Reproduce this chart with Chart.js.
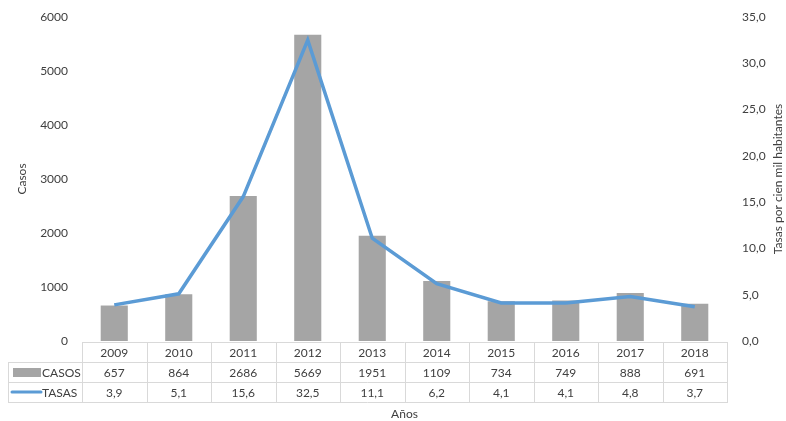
<!DOCTYPE html>
<html>
<head>
<meta charset="utf-8">
<script src="https://cdn.jsdelivr.net/npm/chart.js@4.4.1/dist/chart.umd.min.js"></script>
<style>
html,body{margin:0;padding:0;background:#fff;}
canvas{display:block;}
</style>
</head>
<body>
<canvas id="c" width="786" height="421"></canvas>
<script>
const categories = ['2009','2010','2011','2012','2013','2014','2015','2016','2017','2018'];
const casos = [657, 864, 2686, 5669, 1951, 1109, 734, 749, 888, 691];
const tasas = [3.9, 5.1, 15.6, 32.5, 11.1, 6.2, 4.1, 4.1, 4.8, 3.7];
const casosLabel = 'CASOS';
const tasasLabel = 'TASAS';
const leftTitle = 'Casos';
const rightTitle = 'Tasas por cien mil habitantes';
const xTitle = 'Años';

const FONT = 'Lato, "Liberation Sans", sans-serif';
const TEXT = '#404040';
const BAR = '#a5a5a5';
const LINE = '#5b9bd5';
const GRID = '#d9d9d9';

const fmt = v => v.toFixed(1).replace('.', ',');

const tablePlugin = {
  id: 'dataTable',
  afterDraw(chart) {
    const ctx = chart.ctx;
    const ca = chart.chartArea;
    const xs = chart.scales.x;
    const n = categories.length;
    const w = (ca.right - ca.left) / n;
    const top = Math.round(ca.bottom) + 1;
    const rh = 20;
    const tl = 8;
    ctx.save();
    ctx.strokeStyle = GRID;
    ctx.lineWidth = 1;
    ctx.beginPath();
    ctx.moveTo(ca.left, top + 0.5); ctx.lineTo(ca.right, top + 0.5);
    for (let r = 1; r <= 3; r++) {
      ctx.moveTo(tl, top + r * rh + 0.5); ctx.lineTo(ca.right, top + r * rh + 0.5);
    }
    for (let i = 0; i <= n; i++) {
      const xx = Math.round(ca.left + i * w) + 0.5;
      ctx.moveTo(xx, top); ctx.lineTo(xx, top + 3 * rh + 1);
    }
    ctx.moveTo(tl + 0.5, top + rh); ctx.lineTo(tl + 0.5, top + 3 * rh + 1);
    ctx.stroke();

    ctx.fillStyle = TEXT;
    ctx.font = '12px ' + FONT;
    ctx.textAlign = 'center';
    ctx.textBaseline = 'middle';
    for (let i = 0; i < n; i++) {
      const cx = xs.getPixelForValue(i);
      ctx.fillText(categories[i], cx, top + rh / 2 + 1);
      ctx.fillText(String(casos[i]), cx, top + rh * 1.5 + 1);
      ctx.fillText(fmt(tasas[i]), cx, top + rh * 2.5 + 1);
    }
    // legend keys
    ctx.fillStyle = BAR;
    ctx.fillRect(13, top + rh + 6, 28, 9);
    ctx.strokeStyle = LINE;
    ctx.lineWidth = 3;
    ctx.lineCap = 'round';
    ctx.beginPath();
    ctx.moveTo(12, top + rh * 2.5); ctx.lineTo(41, top + rh * 2.5);
    ctx.stroke();
    ctx.fillStyle = TEXT;
    ctx.textAlign = 'left';
    ctx.fillText(casosLabel, 42, top + rh * 1.5 + 1);
    ctx.fillText(tasasLabel, 42, top + rh * 2.5 + 1);

    // x title
    ctx.textAlign = 'center';
    ctx.fillText(xTitle, (ca.left + ca.right) / 2, 414);

    // right title (bottom-to-top)
    ctx.save();
    ctx.translate(778, (ca.top + ca.bottom) / 2);
    ctx.rotate(-Math.PI / 2);
    ctx.fillText(rightTitle, 0, 0);
    ctx.restore();
    ctx.restore();
  }
};

new Chart(document.getElementById('c'), {
  type: 'bar',
  data: {
    labels: categories,
    datasets: [
      {
        type: 'line',
        label: tasasLabel,
        data: tasas,
        yAxisID: 'y1',
        borderColor: LINE,
        backgroundColor: LINE,
        borderWidth: 3.5,
        pointRadius: 0,
        tension: 0,
        order: 0
      },
      {
        type: 'bar',
        label: casosLabel,
        data: casos,
        yAxisID: 'y',
        backgroundColor: BAR,
        borderWidth: 0,
        categoryPercentage: 1,
        barPercentage: 0.42,
        order: 1
      }
    ]
  },
  options: {
    responsive: false,
    animation: false,
    layout: { padding: { top: 17, bottom: 80, left: 0, right: 0 } },
    plugins: { legend: { display: false }, tooltip: { enabled: false } },
    scales: {
      x: { display: false, offset: true },
      y: {
        position: 'left',
        min: 0, max: 6000,
        ticks: { stepSize: 1000, padding: 14, color: TEXT, font: { family: FONT, size: 12 }, callback: v => String(v) },
        grid: { display: false, drawTicks: false },
        border: { display: false },
        title: { display: true, text: leftTitle, color: TEXT, font: { family: FONT, size: 12 }, padding: { top: 15, bottom: 0 } },
        afterFit(s) { s.width = 82; s.paddingTop = 0; s.paddingBottom = 0; }
      },
      y1: {
        position: 'right',
        min: 0, max: 35,
        ticks: { stepSize: 5, padding: 15, color: TEXT, font: { family: FONT, size: 12 }, callback: v => fmt(v) },
        grid: { display: false, drawTicks: false },
        border: { display: false },
        afterFit(s) { s.width = 59; s.paddingTop = 0; s.paddingBottom = 0; }
      }
    }
  },
  plugins: [tablePlugin]
});
</script>
</body>
</html>
